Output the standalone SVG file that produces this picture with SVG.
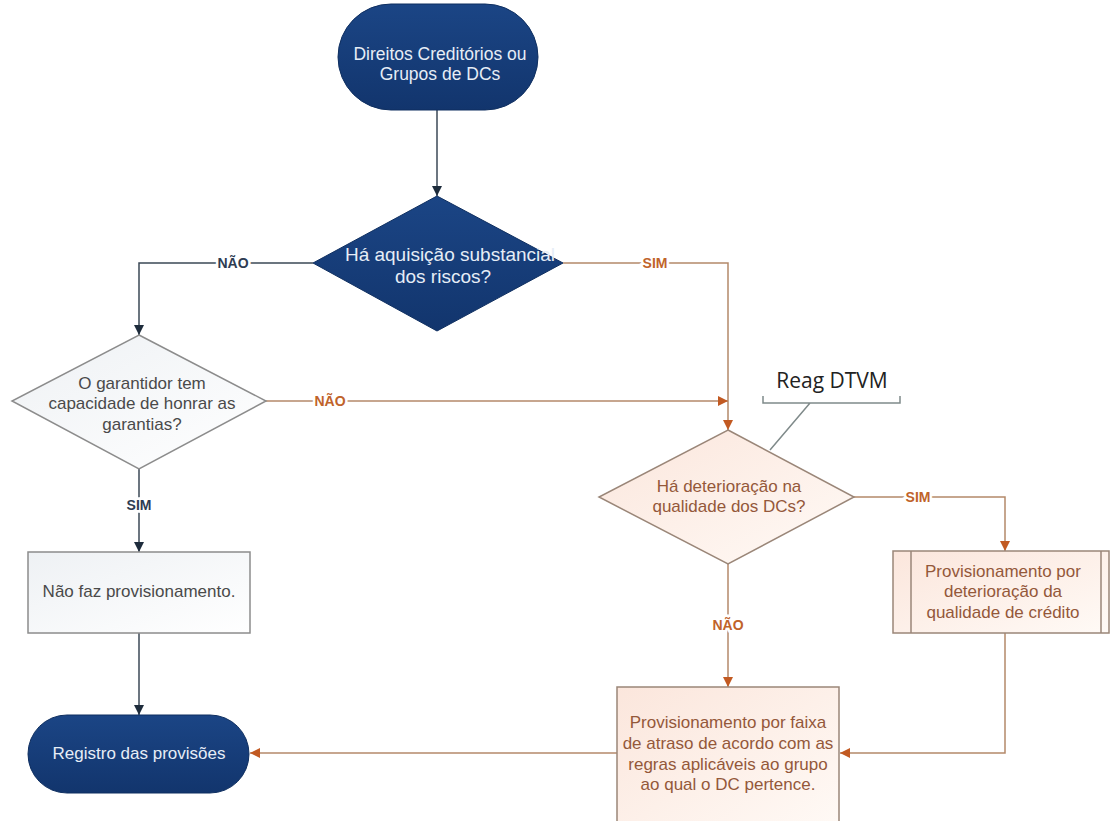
<svg xmlns="http://www.w3.org/2000/svg" width="1110" height="821" viewBox="0 0 1110 821">
<defs>
<linearGradient id="navy" x1="0" y1="0" x2="0" y2="1">
<stop offset="0" stop-color="#1b4585"/>
<stop offset="1" stop-color="#12356d"/>
</linearGradient>
<linearGradient id="gray" x1="0" y1="0" x2="1" y2="1">
<stop offset="0" stop-color="#eef1f4"/>
<stop offset="1" stop-color="#ffffff"/>
</linearGradient>
<linearGradient id="peach" x1="0" y1="0" x2="1" y2="1">
<stop offset="0" stop-color="#fbe6dc"/>
<stop offset="1" stop-color="#fffaf6"/>
</linearGradient>
<marker id="ab" viewBox="0 0 10 10" refX="10" refY="5" markerWidth="10" markerHeight="10" markerUnits="userSpaceOnUse" orient="auto">
<path d="M0,0 L10,5 L0,10 z" fill="#1e2c3c"/>
</marker>
<marker id="ao" viewBox="0 0 10 10" refX="10" refY="5" markerWidth="10" markerHeight="10" markerUnits="userSpaceOnUse" orient="auto">
<path d="M0,0 L10,5 L0,10 z" fill="#c25a22"/>
</marker>
</defs>
<style>
text{font-family:"Liberation Sans",Arial,sans-serif;font-size:17px;text-anchor:middle;}
.wt{fill:#e6edf6;}
.gt{fill:#4a4a4a;}
.ot{fill:#94583a;}
.nv{fill:url(#navy);stroke:#0f2f60;stroke-width:1;}
.gn{fill:url(#gray);stroke:#8c8c8c;stroke-width:1.5;}
.on{fill:url(#peach);stroke:#9a8678;stroke-width:1.5;}
.bl{fill:none;stroke:#3b4856;stroke-width:1.5;}
.ol{fill:none;stroke:#b4896a;stroke-width:1.5;}
.lb{font-size:14px;font-weight:bold;stroke:#fff;stroke-width:5;paint-order:stroke;}
.lbb{fill:#2e3c52;}
.lbo{fill:#c0632a;}
</style>
<rect width="1110" height="821" fill="#ffffff"/>
<g id="connectors">
<path class="bl" d="M437,110 L437,196" marker-end="url(#ab)"/>
<path class="bl" d="M313,263 L139,263 L139,335" marker-end="url(#ab)"/>
<path class="ol" d="M563,263 L728,263 L728,430" marker-end="url(#ao)"/>
<path class="ol" d="M266,401 L728,401" marker-end="url(#ao)"/>
<path class="bl" d="M139,469 L139,552" marker-end="url(#ab)"/>
<path class="bl" d="M139,633 L139,715" marker-end="url(#ab)"/>
<path class="ol" d="M854,497 L1005,497 L1005,551" marker-end="url(#ao)"/>
<path class="ol" d="M728,564 L728,687" marker-end="url(#ao)"/>
<path class="ol" d="M1005,633 L1005,753 L840,753" marker-end="url(#ao)"/>
<path class="ol" d="M617,753 L250,753" marker-end="url(#ao)"/>
<text class="lb lbb" x="233" y="268">NÃO</text>
<text class="lb lbo" x="655" y="268">SIM</text>
<text class="lb lbo" x="330" y="406">NÃO</text>
<text class="lb lbb" x="139" y="510">SIM</text>
<text class="lb lbo" x="918" y="502">SIM</text>
<text class="lb lbo" x="728" y="630">NÃO</text>
</g>
<g id="start">
<rect class="nv" x="338" y="4" width="200" height="106" rx="53"/>
<text class="wt" x="440" y="60" style="font-size:17.5px">Direitos Creditórios ou</text>
<text class="wt" x="440" y="80" style="font-size:17.5px">Grupos de DCs</text>
</g>
<g id="d1">
<path class="nv" d="M437,196 L563,263 L437,331 L313,263 z"/>
<text class="wt" x="450" y="261" style="font-size:19px">Há aquisição substancial</text>
<text class="wt" x="443" y="283" style="font-size:19px">dos riscos?</text>
</g>
<g id="d2">
<path class="gn" d="M139,335 L266,401 L139,469 L12,401 z"/>
<text class="gt" x="142" y="389">O garantidor tem</text>
<text class="gt" x="142" y="409">capacidade de honrar as</text>
<text class="gt" x="142" y="430">garantias?</text>
</g>
<g id="nofaz">
<rect class="gn" x="28" y="552" width="222" height="81"/>
<text class="gt" x="139" y="597">Não faz provisionamento.</text>
</g>
<g id="registro">
<rect class="nv" x="28" y="715" width="221" height="78" rx="39"/>
<text class="wt" x="139" y="759">Registro das provisões</text>
</g>
<g id="d3">
<path class="on" d="M728,430 L854,497 L728,564 L599,497 z"/>
<text class="ot" x="729" y="492">Há deterioração na</text>
<text class="ot" x="729" y="512">qualidade dos DCs?</text>
</g>
<g id="deter">
<rect class="on" x="893" y="551" width="216" height="82"/>
<line x1="911" y1="551" x2="911" y2="633" stroke="#9a8678" stroke-width="1.5"/>
<line x1="1101" y1="551" x2="1101" y2="633" stroke="#9a8678" stroke-width="1.5"/>
<text class="ot" x="1003" y="577">Provisionamento por</text>
<text class="ot" x="1003" y="597">deterioração da</text>
<text class="ot" x="1003" y="618">qualidade de crédito</text>
</g>
<g id="faixa">
<rect class="on" x="617" y="687" width="222" height="145"/>
<text class="ot" x="728" y="728">Provisionamento por faixa</text>
<text class="ot" x="728" y="749">de atraso de acordo com as</text>
<text class="ot" x="728" y="770">regras aplicáveis ao grupo</text>
<text class="ot" x="728" y="790">ao qual o DC pertence.</text>
</g>
<g id="callout">
<path d="M763,396 L763,403 L900,403 L900,396 M810,403 L770,450" fill="none" stroke="#7f8a8a" stroke-width="1.5"/>
<text x="832" y="388" style="font-family:'Open Sans','Liberation Sans',sans-serif;font-size:21px;fill:#222;">Reag DTVM</text>
</g>
</svg>
